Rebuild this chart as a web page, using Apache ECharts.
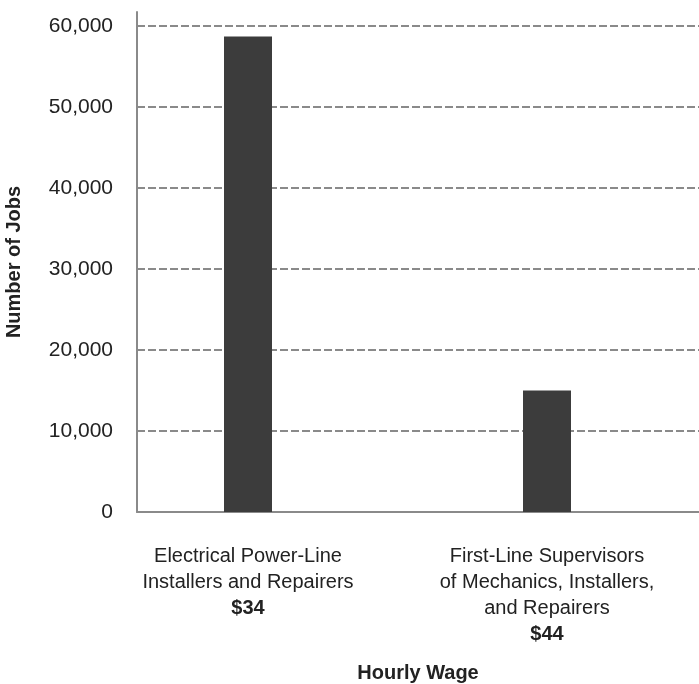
<!DOCTYPE html>
<html>
<head>
<meta charset="utf-8">
<script src="https://cdn.jsdelivr.net/npm/echarts@6/dist/echarts.min.js"></script>
<style>html,body{margin:0;padding:0;background:#fff;}#c{width:699px;height:684px;}</style>
</head>
<body>
<div id="c"></div>
<script>
var categories = ['Electrical Power-Line\nInstallers and Repairers\n{b|$34}', 'First-Line Supervisors\nof Mechanics, Installers,\nand Repairers\n{b|$44}'];
var jobs = [58700, 15000];
var yTicks = [0, 10000, 20000, 30000, 40000, 50000, 60000];

var chart = echarts.init(document.getElementById('c'), null, {renderer: 'canvas'});
var font = 'Liberation Sans, Arial, sans-serif';
var gridTop = 26, gridBottom = 172;
chart.setOption({
  animation: false,
  backgroundColor: '#fff',
  grid: [
    {left: 137, right: 0, top: gridTop, bottom: gridBottom, containLabel: false, outerBoundsMode: 'none'},
    {left: 98.5, right: 2.5, top: gridTop, bottom: gridBottom, containLabel: false, outerBoundsMode: 'none'},
    {left: 137, right: 0, top: 12, bottom: gridBottom, containLabel: false, outerBoundsMode: 'none'}
  ],
  xAxis: [
    {gridIndex: 0, type: 'category', data: categories, axisLabel: {show: false}, axisTick: {show: false},
     axisLine: {show: true, lineStyle: {color: '#8a8a8a', width: 2}},
     name: 'Hourly Wage', nameLocation: 'middle', nameGap: 151,
     nameTextStyle: {fontFamily: font, fontSize: 20, fontWeight: 'bold', color: '#222'}},
    {gridIndex: 1, type: 'category', data: categories, axisLine: {show: false}, axisTick: {show: false},
     axisLabel: {fontFamily: font, fontSize: 20, color: '#222', margin: 31, lineHeight: 26, verticalAlign: 'top',
       rich: {b: {fontFamily: font, fontSize: 20, fontWeight: 'bold', color: '#222', lineHeight: 26}}}},
    {gridIndex: 2, type: 'category', data: categories, show: false}
  ],
  yAxis: [
    {gridIndex: 0, type: 'value', min: 0, max: 60000, interval: 10000,
     axisLine: {show: false}, axisTick: {show: false},
     axisLabel: {fontFamily: font, fontSize: 21, color: '#222', margin: 24,
       formatter: function (v) { return yTicks.indexOf(v) >= 0 ? v.toLocaleString('en-US') : ''; }},
     splitLine: {show: true, lineStyle: {color: '#8a8a8a', width: 2, type: [8, 3]}}},
    {gridIndex: 1, type: 'value', min: 0, max: 60000, interval: 10000, show: false},
    {gridIndex: 2, type: 'value', min: 0, max: 1, axisLabel: {show: false}, axisTick: {show: false},
     splitLine: {show: false}, axisLine: {show: true, lineStyle: {color: '#8a8a8a', width: 2}},
     name: 'Number of Jobs', nameLocation: 'middle', nameGap: 113, nameRotate: 90,
     nameTextStyle: {fontFamily: font, fontSize: 20, fontWeight: 'bold', color: '#222'}}
  ],
  series: [
    {type: 'bar', xAxisIndex: 1, yAxisIndex: 1, data: jobs, barWidth: 48,
     itemStyle: {color: '#3c3c3c'}, z: 5}
  ]
});
</script>
</body>
</html>
